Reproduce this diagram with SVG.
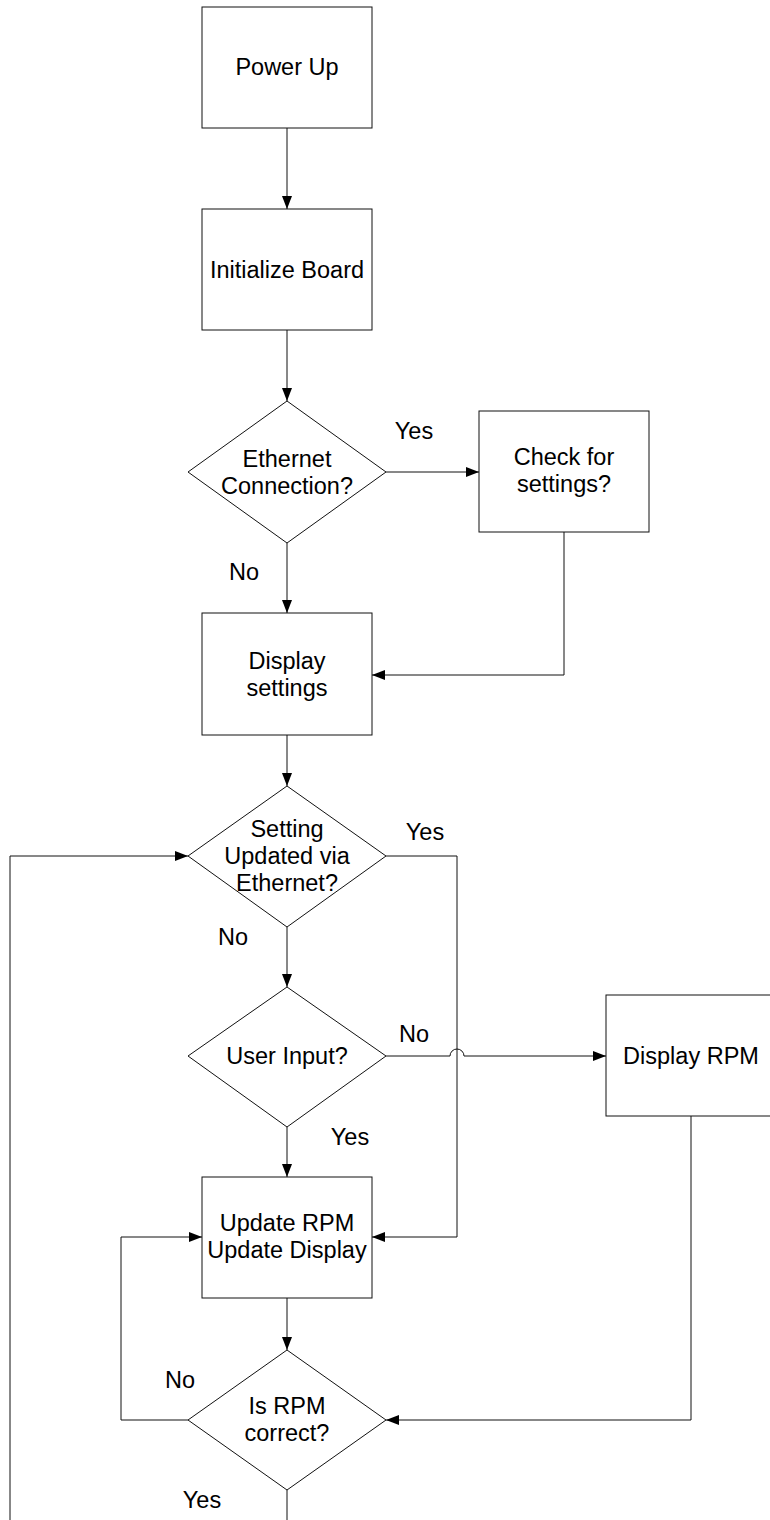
<svg xmlns="http://www.w3.org/2000/svg" width="770" height="1520" viewBox="0 0 770 1520">
<style>
.n{fill:#fff;stroke:#111;stroke-width:1}
.c{fill:none;stroke:#111;stroke-width:1}
text{font-family:"Liberation Sans",Arial,sans-serif;font-size:23.5px;fill:#000;text-anchor:middle}
</style>
<defs>
<marker id="a" markerWidth="13" markerHeight="10" refX="13" refY="5" orient="auto" markerUnits="userSpaceOnUse">
<path d="M0,0 L13,5 L0,10 Z" fill="#000"/>
</marker>
</defs>
<rect width="770" height="1520" fill="#fff"/>
<g id="connectors">
<path class="c" d="M287,128 V209" marker-end="url(#a)"/>
<path class="c" d="M287,330 V401" marker-end="url(#a)"/>
<path class="c" d="M386,472 H479" marker-end="url(#a)"/>
<path class="c" d="M287,543 V613" marker-end="url(#a)"/>
<path class="c" d="M564,532 V675 H372" marker-end="url(#a)"/>
<path class="c" d="M287,735 V786" marker-end="url(#a)"/>
<path class="c" d="M386,856 H457 V1237 H372" marker-end="url(#a)"/>
<path class="c" d="M287,927 V987" marker-end="url(#a)"/>
<path class="c" d="M386,1056 H450 A7,7 0 0 1 464,1056 H606" marker-end="url(#a)"/>
<path class="c" d="M287,1127 V1177" marker-end="url(#a)"/>
<path class="c" d="M287,1298 V1350" marker-end="url(#a)"/>
<path class="c" d="M691,1116 V1420 H386" marker-end="url(#a)"/>
<path class="c" d="M188,1420 H121 V1237 H202" marker-end="url(#a)"/>
<path class="c" d="M287,1490 V1520"/>
<path class="c" d="M10,1520 V856 H188" marker-end="url(#a)"/>
<text x="414" y="439">Yes</text>
<text x="244" y="580">No</text>
<text x="425" y="840">Yes</text>
<text x="233" y="945">No</text>
<text x="414" y="1042">No</text>
<text x="350" y="1145">Yes</text>
<text x="180" y="1388">No</text>
<text x="202" y="1508">Yes</text>
</g>
<g id="power-up">
<rect class="n" x="202" y="7" width="170" height="121"/>
<text x="287" y="75">Power Up</text>
</g>
<g id="initialize-board">
<rect class="n" x="202" y="209" width="170" height="121"/>
<text x="287" y="278">Initialize Board</text>
</g>
<g id="ethernet-connection">
<polygon class="n" points="287,401 386,472 287,543 188,472"/>
<text x="287" y="467">Ethernet</text>
<text x="287" y="494">Connection?</text>
</g>
<g id="check-settings">
<rect class="n" x="479" y="411" width="170" height="121"/>
<text x="564" y="465">Check for</text>
<text x="564" y="492">settings?</text>
</g>
<g id="display-settings">
<rect class="n" x="202" y="613" width="170" height="122"/>
<text x="287" y="669">Display</text>
<text x="287" y="696">settings</text>
</g>
<g id="setting-updated">
<polygon class="n" points="287,786 386,856 287,927 188,856"/>
<text x="287" y="837">Setting</text>
<text x="287" y="864">Updated via</text>
<text x="287" y="891">Ethernet?</text>
</g>
<g id="user-input">
<polygon class="n" points="287,987 386,1056 287,1127 188,1056"/>
<text x="287" y="1064">User Input?</text>
</g>
<g id="display-rpm">
<rect class="n" x="606" y="995" width="170" height="121"/>
<text x="691" y="1064">Display RPM</text>
</g>
<g id="update-rpm">
<rect class="n" x="202" y="1177" width="170" height="121"/>
<text x="287" y="1231">Update RPM</text>
<text x="287" y="1258">Update Display</text>
</g>
<g id="rpm-correct">
<polygon class="n" points="287,1350 386,1420 287,1490 188,1420"/>
<text x="287" y="1414">Is RPM</text>
<text x="287" y="1441">correct?</text>
</g>
</svg>
